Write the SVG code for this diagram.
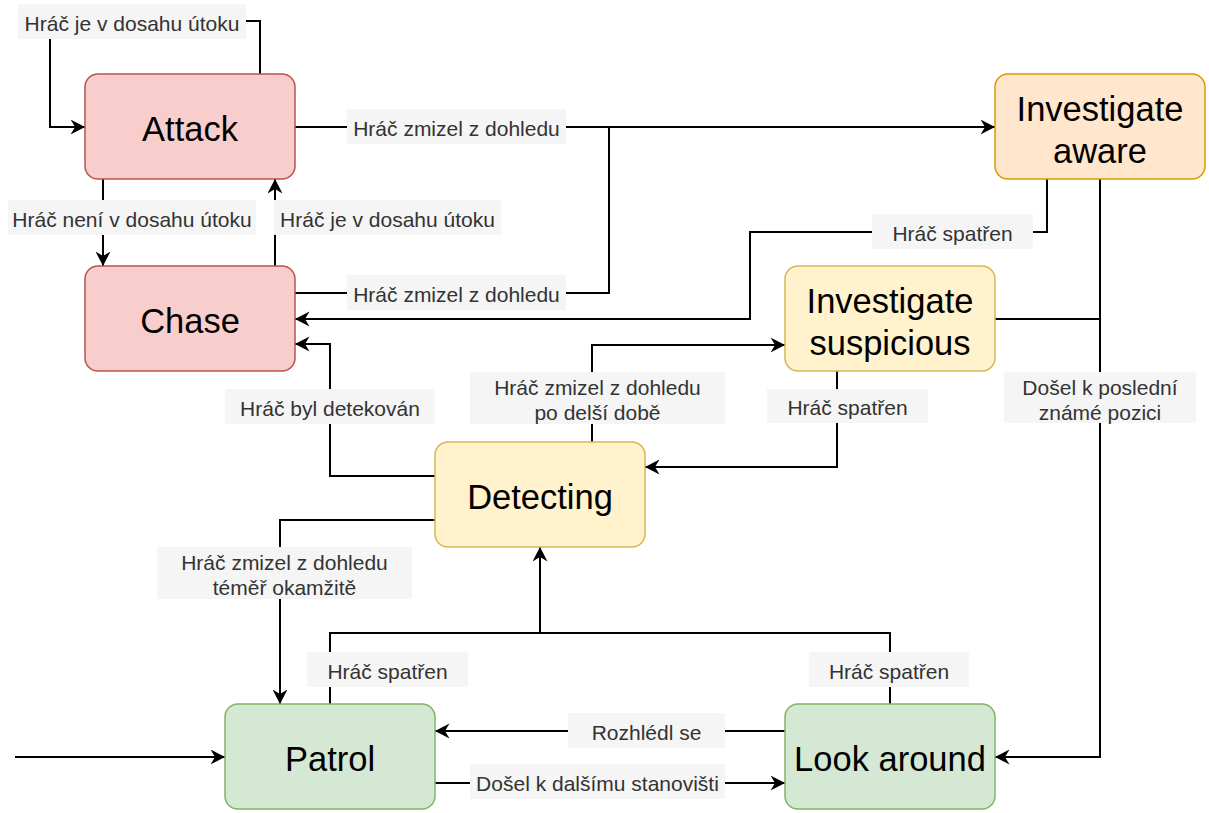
<svg xmlns="http://www.w3.org/2000/svg" width="1209" height="813" viewBox="0 0 1209 813">
<style>
.edge{fill:none;stroke:#000;stroke-width:2}
.arr{marker-end:url(#arrow)}
.lbg{fill:#f5f5f5;stroke:none}
.lt{font-family:"Liberation Sans",Arial,sans-serif;font-size:21px;fill:#333;text-anchor:middle;dominant-baseline:central;transform:translateY(1.5px)}
.nt{font-family:"Liberation Sans",Arial,sans-serif;font-size:34.5px;fill:#000;text-anchor:middle;dominant-baseline:central;transform:translateY(1.5px)}
.red{fill:#f8cecc;stroke:#b85450;stroke-width:1.5}
.orange{fill:#ffe6cc;stroke:#d79b00;stroke-width:1.5}
.yellow{fill:#fff2cc;stroke:#d6b656;stroke-width:1.5}
.green{fill:#d5e8d4;stroke:#82b366;stroke-width:1.5}
</style>
<defs>
<marker id="arrow" markerUnits="userSpaceOnUse" markerWidth="16" markerHeight="16" refX="14.5" refY="7.5" orient="auto">
<path d="M0,0 L14.5,7.5 L0,15 L4.5,7.5 Z" fill="#000"/>
</marker>
</defs>
<rect width="1209" height="813" fill="#fff"/>
<g id="connectors">
<path class="edge arr" d="M260,74 V21 H50 V127 H85"/>
<path class="edge arr" d="M103,179 V266"/>
<path class="edge arr" d="M275,266 V179"/>
<path class="edge arr" d="M295,127 H995"/>
<path class="edge" d="M295,293 H609 V127"/>
<path class="edge arr" d="M1047,179 V232 H750 V319 H295"/>
<path class="edge arr" d="M1100,179 V757 H995"/>
<path class="edge" d="M995,319 H1100"/>
<path class="edge arr" d="M837,371 V467 H645"/>
<path class="edge arr" d="M592,442 V345 H785"/>
<path class="edge arr" d="M435,476 H330 V344 H295"/>
<path class="edge arr" d="M435,520 H280 V704"/>
<path class="edge arr" d="M330,704 V633 H540 V547"/>
<path class="edge" d="M890,704 V633 H540"/>
<path class="edge arr" d="M785,731 H435"/>
<path class="edge arr" d="M435,783 H785"/>
<path class="edge arr" d="M15,757 H225"/>
<g id="labels">
<rect class="lbg" x="18" y="4" width="228" height="35"/><text class="lt" x="132" y="21.5">Hráč je v dosahu útoku</text>
<rect class="lbg" x="8" y="200" width="248" height="35"/><text class="lt" x="132" y="217.5">Hráč není v dosahu útoku</text>
<rect class="lbg" x="274" y="200" width="227" height="35"/><text class="lt" x="387.5" y="217.5">Hráč je v dosahu útoku</text>
<rect class="lbg" x="347" y="109" width="219" height="35"/><text class="lt" x="456.5" y="126.5">Hráč zmizel z dohledu</text>
<rect class="lbg" x="347" y="275" width="219" height="35"/><text class="lt" x="456.5" y="292.5">Hráč zmizel z dohledu</text>
<rect class="lbg" x="872" y="214" width="161" height="35"/><text class="lt" x="952.5" y="231.5">Hráč spatřen</text>
<rect class="lbg" x="1004" y="372" width="192" height="51"/><text class="lt" x="1100" y="385.5">Došel k poslední</text><text class="lt" x="1100" y="410.5">známé pozici</text>
<rect class="lbg" x="767" y="389" width="161" height="34"/><text class="lt" x="847.5" y="406">Hráč spatřen</text>
<rect class="lbg" x="470" y="372" width="255" height="52"/><text class="lt" x="597.5" y="385.5">Hráč zmizel z dohledu</text><text class="lt" x="597.5" y="410.5">po delší době</text>
<rect class="lbg" x="225" y="389" width="210" height="35"/><text class="lt" x="330" y="406.5">Hráč byl detekován</text>
<rect class="lbg" x="157" y="547" width="255" height="52"/><text class="lt" x="284.5" y="560.5">Hráč zmizel z dohledu</text><text class="lt" x="284.5" y="585.5">téměř okamžitě</text>
<rect class="lbg" x="307" y="652" width="161" height="35"/><text class="lt" x="387.5" y="669.5">Hráč spatřen</text>
<rect class="lbg" x="809" y="652" width="160" height="35"/><text class="lt" x="889" y="669.5">Hráč spatřen</text>
<rect class="lbg" x="568" y="713" width="157" height="35"/><text class="lt" x="646.5" y="730.5">Rozhlédl se</text>
<rect class="lbg" x="470" y="764" width="255" height="35"/><text class="lt" x="597.5" y="781.5">Došel k dalšímu stanovišti</text>
</g>
</g>
<g id="attack"><rect class="red" x="85" y="74" width="210" height="105" rx="13"/><text class="nt" x="190" y="127">Attack</text></g>
<g id="chase"><rect class="red" x="85" y="266" width="210" height="105" rx="13"/><text class="nt" x="190" y="319">Chase</text></g>
<g id="investigate-aware"><rect class="orange" x="995" y="74" width="210" height="105" rx="13"/><text class="nt" x="1100" y="107">Investigate</text><text class="nt" x="1100" y="149">aware</text></g>
<g id="investigate-suspicious"><rect class="yellow" x="785" y="266" width="210" height="105" rx="13"/><text class="nt" x="890" y="299">Investigate</text><text class="nt" x="890" y="341">suspicious</text></g>
<g id="detecting"><rect class="yellow" x="435" y="442" width="210" height="105" rx="13"/><text class="nt" x="540" y="495">Detecting</text></g>
<g id="patrol"><rect class="green" x="225" y="704" width="210" height="105" rx="13"/><text class="nt" x="330" y="757">Patrol</text></g>
<g id="look-around"><rect class="green" x="785" y="704" width="210" height="105" rx="13"/><text class="nt" x="890" y="757">Look around</text></g>
</svg>
